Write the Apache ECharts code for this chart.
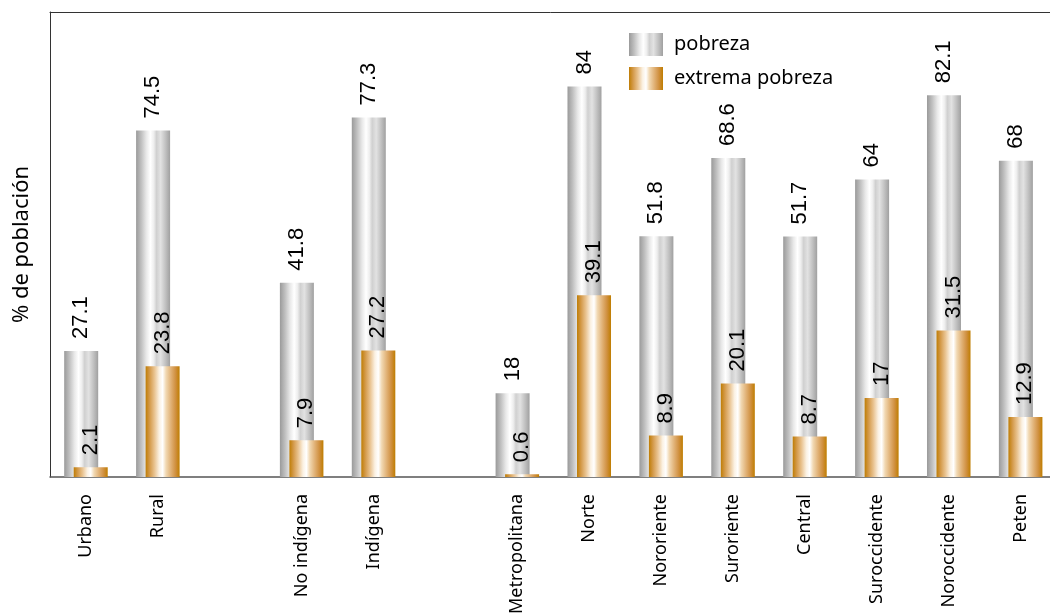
<!DOCTYPE html>
<html>
<head>
<meta charset="utf-8">
<script src="https://cdn.jsdelivr.net/npm/echarts@6/dist/echarts.min.js"></script>
<style>
  html, body { margin: 0; padding: 0; background: #fff; }
  #container { width: 1050px; height: 616px; }
</style>
</head>
<body>
<div id="container"></div>
<script>
var dom = document.getElementById('container');
var myChart = echarts.init(dom, null, { renderer: 'canvas' });

// empty strings are the spacer slots between groups
var categories = ['Urbano', 'Rural', '', 'No indígena', 'Indígena', '',
  'Metropolitana', 'Norte', 'Nororiente', 'Suroriente', 'Central',
  'Suroccidente', 'Noroccidente', 'Peten'];
var pobreza = [27.1, 74.5, '-', 41.8, 77.3, '-', 18, 84, 51.8, 68.6, 51.7, 64, 82.1, 68];
var extremaPobreza = [2.1, 23.8, '-', 7.9, 27.2, '-', 0.6, 39.1, 8.9, 20.1, 8.7, 17, 31.5, 12.9];

// striped cylinder look
var grayFill = new echarts.graphic.LinearGradient(0, 0, 1, 0, [
  { offset: 0, color: '#9a9a9a' },
  { offset: 0.15, color: '#bfbfbf' },
  { offset: 0.3, color: '#e8e8e8' },
  { offset: 0.42, color: '#ffffff' },
  { offset: 0.52, color: '#eeeeee' },
  { offset: 0.6, color: '#d0d0d0' },
  { offset: 0.72, color: '#e2e2e2' },
  { offset: 0.86, color: '#c2c2c2' },
  { offset: 1, color: '#a0a0a0' }
]);
var orangeFill = new echarts.graphic.LinearGradient(0, 0, 1, 0, [
  { offset: 0, color: '#bf7d05' },
  { offset: 0.12, color: '#d49a4a' },
  { offset: 0.26, color: '#e9c390' },
  { offset: 0.4, color: '#fbf1e2' },
  { offset: 0.5, color: '#ffffff' },
  { offset: 0.6, color: '#f1d8b2' },
  { offset: 0.75, color: '#e0b074' },
  { offset: 0.88, color: '#d09040' },
  { offset: 1, color: '#bf7d00' }
]);

var valueLabel = {
  show: true,
  position: 'top',
  distance: 12,
  rotate: 90,
  align: 'left',
  verticalAlign: 'middle',
  fontSize: 22,
  fontFamily: 'Liberation Sans',
  color: '#000'
};

var option = {
  animation: false,
  grid: { left: 50, width: 1006.6, top: 12, bottom: 139, outerBoundsMode: 'none', containLabel: false },
  legend: {
    orient: 'vertical',
    left: 624,
    top: 28,
    itemWidth: 34,
    itemHeight: 23,
    itemGap: 11,
    icon: 'rect',
    textStyle: { fontSize: 20, fontFamily: 'Noto Sans', color: '#000', padding: [0, 0, 0, 6] },
    data: ['pobreza', 'extrema pobreza']
  },
  xAxis: [{
    type: 'category',
    data: categories,
    axisLine: { lineStyle: { color: '#555', width: 1.5 } },
    axisTick: { show: false },
    axisLabel: {
      interval: 0,
      rotate: 90,
      margin: 17,
      fontSize: 18,
      fontFamily: 'Noto Sans',
      color: '#000'
    }
  }, {
    type: 'category',
    position: 'top',
    data: categories,
    axisLine: { show: true, lineStyle: { color: '#333', width: 1 } },
    axisTick: { show: false },
    axisLabel: { show: false }
  }],
  yAxis: {
    type: 'value',
    min: 0,
    max: 100,
    name: '% de población',
    nameLocation: 'middle',
    nameGap: 17,
    nameTextStyle: { fontSize: 22, fontFamily: 'Noto Sans', color: '#000' },
    axisLine: { show: true, lineStyle: { color: '#333', width: 1 } },
    axisTick: { show: false },
    axisLabel: { show: false },
    splitLine: { show: false }
  },
  series: [{
    name: 'pobreza',
    type: 'bar',
    data: pobreza,
    barWidth: 34,
    barGap: '-72%',
    itemStyle: { color: grayFill },
    label: valueLabel
  }, {
    name: 'extrema pobreza',
    type: 'bar',
    data: extremaPobreza,
    barWidth: 34,
    itemStyle: { color: orangeFill },
    label: valueLabel
  }]
};

myChart.setOption(option);
window.addEventListener('resize', myChart.resize);
</script>
</body>
</html>
